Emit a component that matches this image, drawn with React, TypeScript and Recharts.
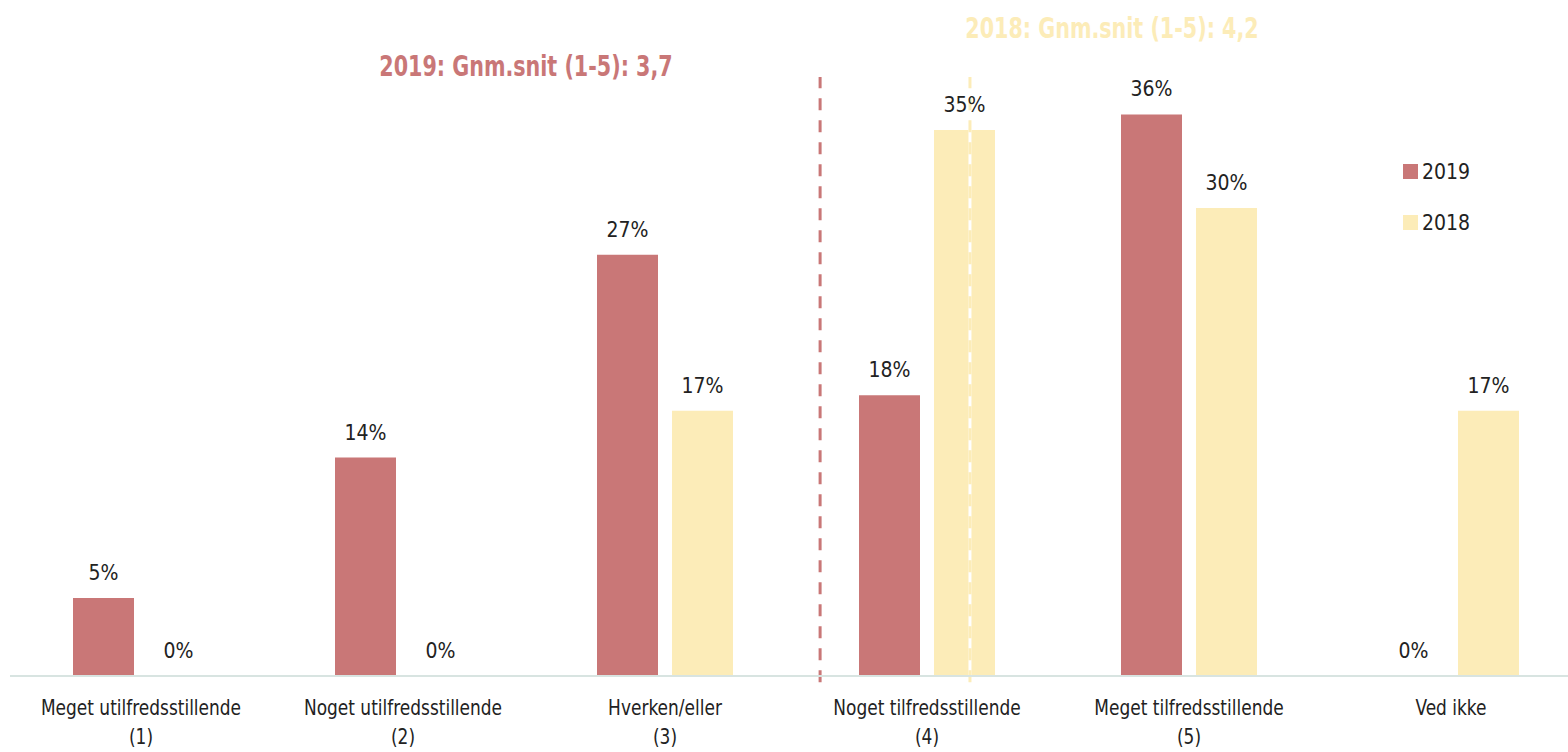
import React from "react";
import {
  Bar,
  BarChart,
  LabelList,
  Legend,
  ReferenceLine,
  XAxis,
  YAxis,
} from "recharts";

const categories = [
  "Meget utilfredsstillende",
  "Noget utilfredsstillende",
  "Hverken/eller",
  "Noget tilfredsstillende",
  "Meget tilfredsstillende",
  "Ved ikke",
];
const codes = ["(1)", "(2)", "(3)", "(4)", "(5)", ""];
const values2019 = [5, 14, 27, 18, 36, 0];
const values2018 = [0, 0, 17, 35, 30, 17];

// mean markers, in category-slot units (0 = left edge, 6 = right edge)
const mean2019Pos = 3.092;
const mean2018Pos = 3.664;

const RED = "#c97777";
const YELLOW = "#fcecb8";
const TEXT = "#222222";
const FONT = '"DejaVu Sans Condensed", "Liberation Sans Narrow", sans-serif';

const data = categories.map((c, i) => ({
  name: c,
  code: codes[i],
  slot: i + 0.5,
  y2019: values2019[i],
  y2018: values2018[i],
}));

function Tick(props: any) {
  const { x, y, index } = props;
  return (
    <g
      transform={`translate(${x},${y}) scale(0.9,1)`}
      fontFamily={FONT}
      fontSize={21}
      fill={TEXT}
    >
      <text x={0} y={31} textAnchor="middle" fill={TEXT}>
        {categories[index]}
      </text>
      <text x={0} y={60} textAnchor="middle" fill={TEXT}>
        {codes[index]}
      </text>
    </g>
  );
}

function LegendBox(props: any) {
  const items = [...(props.payload || [])].sort((a: any, b: any) =>
    String(b.value).localeCompare(String(a.value))
  );
  return (
    <div style={{ fontFamily: FONT, fontSize: 21, color: TEXT }}>
      {items.map((it: any) => (
        <div
          key={it.value}
          style={{ display: "flex", alignItems: "center", height: 51 }}
        >
          <span
            style={{
              width: 15,
              height: 15,
              background: it.color,
              display: "inline-block",
              marginRight: 4,
            }}
          />
          {it.value}
        </div>
      ))}
    </div>
  );
}

const titleStyle = {
  position: "absolute" as const,
  fontFamily: FONT,
  fontWeight: "bold" as const,
  fontSize: 28,
  whiteSpace: "nowrap" as const,
  transform: "translate(-50%, -50%) scaleX(0.82)",
};

export default function App() {
  return (
    <div
      style={{
        position: "absolute",
        left: 0,
        top: 0,
        width: 1568,
        height: 752,
        overflow: "hidden",
        background: "#fff",
      }}
    >
      <div style={{ ...titleStyle, left: 526, top: 66, color: RED }}>
        2019: Gnm.snit (1-5): 3,7
      </div>
      <div style={{ ...titleStyle, left: 1112, top: 28, color: YELLOW }}>
        2018: Gnm.snit (1-5): 4,2
      </div>
      <BarChart
        width={1582}
        height={752}
        data={data}
        margin={{ top: 52, right: 0, bottom: 6, left: 10 }}
        barCategoryGap={63}
        barGap={14}
      >
        <XAxis
          dataKey="name"
          height={70}
          tickLine={false}
          axisLine={{ stroke: "#d8e4e1", strokeWidth: 2 }}
          tick={<Tick />}
          interval={0}
        />
        <XAxis
          xAxisId="pos"
          dataKey="slot"
          type="number"
          domain={[0, 6]}
          allowDataOverflow
          hide
        />
        <YAxis hide domain={[0, 40]} />
        <Legend
          layout="horizontal"
          verticalAlign="middle"
          align="center"
          wrapperStyle={{ left: 1403, top: 146, width: 100 }}
          content={<LegendBox />}
        />
        <Bar
          dataKey="y2019"
          name="2019"
          fill={RED}
          barSize={61}
          minPointSize={0.3}
          isAnimationActive={false}
        >
          <LabelList
            dataKey="y2019"
            position="top"
            offset={18}
            formatter={(v: any) => `${v}%`}
            style={{ fontFamily: FONT, fontSize: 21, fill: TEXT }}
          />
        </Bar>
        <Bar
          dataKey="y2018"
          name="2018"
          fill={YELLOW}
          barSize={61}
          minPointSize={0.3}
          isAnimationActive={false}
        >
          <LabelList
            dataKey="y2018"
            position="top"
            offset={18}
            formatter={(v: any) => `${v}%`}
            style={{ fontFamily: FONT, fontSize: 21, fill: TEXT }}
          />
        </Bar>
        <ReferenceLine
          xAxisId="pos"
          segment={[
            { x: mean2019Pos, y: -0.4 },
            { x: mean2019Pos, y: 38.4 },
          ]}
          stroke={RED}
          strokeWidth={3}
          strokeDasharray="12 10"
          ifOverflow="visible"
        />
        <ReferenceLine
          xAxisId="pos"
          segment={[
            { x: mean2018Pos, y: -0.4 },
            { x: mean2018Pos, y: 38.4 },
          ]}
          stroke="#ffffff"
          strokeWidth={3}
          ifOverflow="visible"
        />
        <ReferenceLine
          xAxisId="pos"
          segment={[
            { x: mean2018Pos, y: -0.4 },
            { x: mean2018Pos, y: 38.4 },
          ]}
          stroke={YELLOW}
          strokeWidth={3}
          strokeDasharray="12 10"
          ifOverflow="visible"
        />
      </BarChart>
    </div>
  );
}
